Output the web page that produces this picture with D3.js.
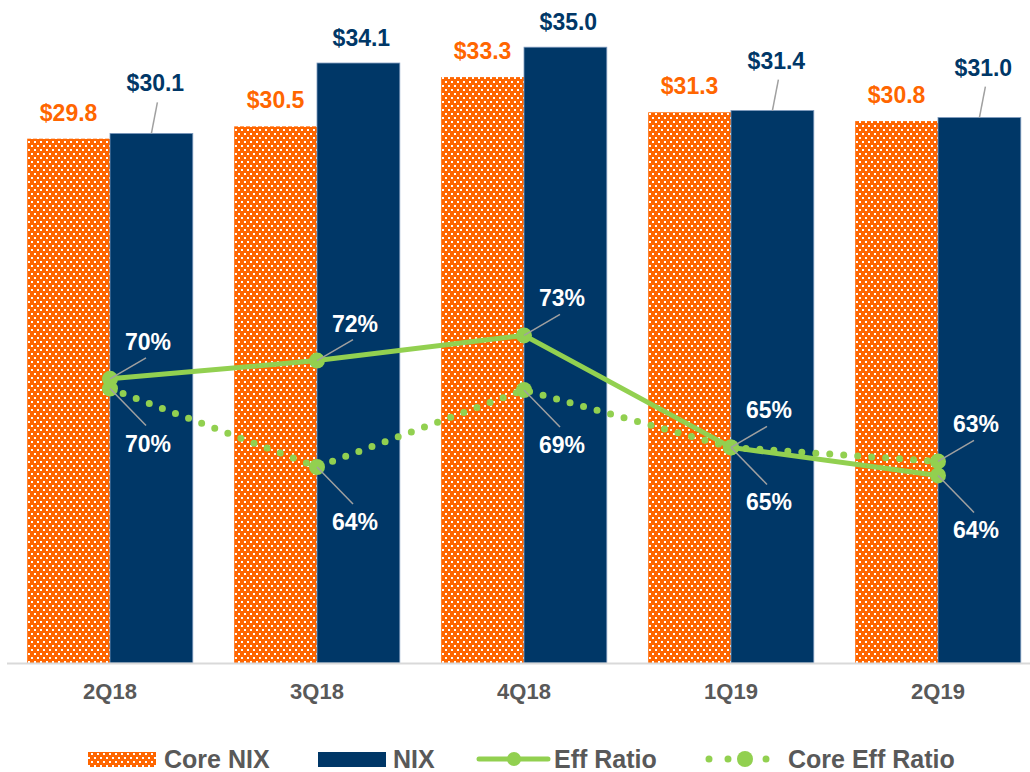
<!DOCTYPE html>
<head>
  <meta charset="utf-8">
  <title>NIX and efficiency ratio</title>
  <style>
    body { margin: 0; background: #fff; }
    text { font-family: Arial, "Liberation Sans", sans-serif; }
  </style>
</head>
<body>

<svg width="1030" height="772"></svg>

<script src="https://cdn.jsdelivr.net/npm/d3@7"></script>
<script>

  // data ($M and %)
  const quarters = ["2Q18", "3Q18", "4Q18", "1Q19", "2Q19"];
  const coreNix = [29.8, 30.5, 33.3, 31.3, 30.8];
  const nix = [30.1, 34.1, 35.0, 31.4, 31.0];
  // ratios as plotted, and the rounded values printed on the slide
  const effRatio = [70.3, 71.6, 73.4, 65.4, 63.4];
  const coreEffRatio = [69.6, 64.0, 69.5, 65.4, 64.4];
  const effLabels = [70, 72, 73, 65, 64];
  const coreEffLabels = [70, 64, 69, 65, 63];

  const ORANGE = "#FF6600", NAVY = "#003767", GREEN = "#92D050",
        GREY = "#595959", LEADER = "#a0a0a0";

  let svg = d3.select("svg");
  const plotTop = 12, plotBottom = 663;

  const x = d3.scaleBand()
    .domain(quarters)
    .range([6.5, 1041.5])
    .paddingInner(0.2)
    .paddingOuter(0.1);

  const xs = d3.scaleBand()
    .domain(["core", "nix"])
    .range([0, x.bandwidth()]);

  const y = d3.scaleLinear().domain([0, 37]).range([plotBottom, plotTop]);
  const y2 = d3.scaleLinear().domain([50, 96.5]).range([plotBottom, plotTop]);

  // dotted fill for Core NIX
  const defs = svg.append("defs");
  const pat = defs.append("pattern")
    .attr("id", "dots")
    .attr("patternUnits", "userSpaceOnUse")
    .attr("width", 6).attr("height", 8);
  pat.append("rect").attr("width", 6).attr("height", 8).attr("fill", ORANGE);
  pat.append("rect").attr("x", 1).attr("y", 1).attr("width", 2).attr("height", 2).attr("fill", "#fff");
  pat.append("rect").attr("x", 4).attr("y", 5).attr("width", 2).attr("height", 2).attr("fill", "#fff");

  const rows = quarters.map((q, i) => ({
    q, core: coreNix[i], nix: nix[i],
    eff: effRatio[i], ceff: coreEffRatio[i],
    effL: effLabels[i], ceffL: coreEffLabels[i]
  }));

  // bars
  const g = svg.append("g");
  g.selectAll("rect.core")
    .data(rows).enter().append("rect")
    .attr("class", "core")
    .attr("x", d => x(d.q) + xs("core"))
    .attr("y", d => y(d.core))
    .attr("width", xs.bandwidth())
    .attr("height", d => plotBottom - y(d.core))
    .attr("fill", "url(#dots)");

  g.selectAll("rect.nix")
    .data(rows).enter().append("rect")
    .attr("class", "nix")
    .attr("x", d => x(d.q) + xs("nix"))
    .attr("y", d => y(d.nix))
    .attr("width", xs.bandwidth())
    .attr("height", d => plotBottom - y(d.nix))
    .attr("fill", NAVY)
    .attr("stroke", "#7d99bd")
    .attr("stroke-width", 0.8);

  // x axis
  const axis = svg.append("g")
    .attr("transform", `translate(0,${plotBottom})`)
    .call(d3.axisBottom(x).tickSize(0).tickPadding(20));
  axis.select(".domain").attr("stroke", "#d9d9d9").attr("stroke-width", 2);
  axis.selectAll("text")
    .attr("fill", GREY)
    .attr("font-size", 22)
    .attr("font-weight", "bold")
    .attr("font-family", "Arial, 'Liberation Sans', sans-serif");

  // bar value labels
  const money = v => "$" + d3.format(".1f")(v);
  g.selectAll("text.core")
    .data(rows).enter().append("text")
    .attr("x", d => x(d.q) + xs("core") + xs.bandwidth() / 2)
    .attr("y", d => y(d.core) - 26)
    .attr("dy", "0.35em")
    .attr("text-anchor", "middle")
    .attr("font-size", 23).attr("font-weight", "bold")
    .attr("fill", ORANGE)
    .text(d => money(d.core));

  // navy labels get lifted with a leader when they would clash with the orange one
  const lifted = d => Math.abs(d.nix - d.core) < 1;
  g.selectAll("line.nix")
    .data(rows.filter(lifted)).enter().append("line")
    .attr("x1", d => x(d.q) + xs("nix") + xs.bandwidth() / 2)
    .attr("y1", d => y(d.nix))
    .attr("x2", d => x(d.q) + xs("nix") + xs.bandwidth() / 2 + 6)
    .attr("y2", d => y(d.nix) - 31)
    .attr("stroke", LEADER).attr("stroke-width", 1.5);

  g.selectAll("text.nix")
    .data(rows).enter().append("text")
    .attr("x", d => x(d.q) + xs("nix") + xs.bandwidth() / 2 + (lifted(d) ? 4 : 3))
    .attr("y", d => y(d.nix) - (lifted(d) ? 50 : 25))
    .attr("dy", "0.35em")
    .attr("text-anchor", "middle")
    .attr("font-size", 23).attr("font-weight", "bold")
    .attr("fill", NAVY)
    .text(d => money(d.nix));

  // ratio lines, points sit on the band centre
  const cx = d => x(d.q) + x.bandwidth() / 2;

  svg.append("path")
    .datum(rows)
    .attr("fill", "none")
    .attr("stroke", GREEN)
    .attr("stroke-width", 7)
    .attr("stroke-linecap", "round")
    .attr("stroke-dasharray", "0 14")
    .attr("d", d3.line().x(cx).y(d => y2(d.ceff)));

  svg.append("path")
    .datum(rows)
    .attr("fill", "none")
    .attr("stroke", GREEN)
    .attr("stroke-width", 5)
    .attr("d", d3.line().x(cx).y(d => y2(d.eff)));

  ["ceff", "eff"].forEach(k => {
    svg.append("g").selectAll("circle")
      .data(rows).enter().append("circle")
      .attr("cx", cx)
      .attr("cy", d => y2(d[k]))
      .attr("r", 8)
      .attr("fill", GREEN);
  });

  // percent labels: the higher point gets its label above, the other one below
  const pct = [];
  rows.forEach(d => {
    const effUp = y2(d.eff) <= y2(d.ceff);
    pct.push({ x: cx(d), y: y2(d.eff), up: effUp, v: d.effL });
    pct.push({ x: cx(d), y: y2(d.ceff), up: !effUp, v: d.ceffL });
  });

  const lab = svg.append("g");
  lab.selectAll("line")
    .data(pct).enter().append("line")
    .attr("x1", d => d.x)
    .attr("y1", d => d.y)
    .attr("x2", d => d.x + 36)
    .attr("y2", d => d.up ? d.y - 21 : d.y + 37)
    .attr("stroke", LEADER).attr("stroke-width", 1.5);

  lab.selectAll("text")
    .data(pct).enter().append("text")
    .attr("x", d => d.x + 38)
    .attr("y", d => d.up ? d.y - 37 : d.y + 55)
    .attr("dy", "0.35em")
    .attr("text-anchor", "middle")
    .attr("font-size", 23).attr("font-weight", "bold")
    .attr("fill", "#fff")
    .text(d => d.v + "%");

  // legend
  const ly = 759;
  const legend = svg.append("g");
  const names = ["Core NIX", "NIX", "Eff Ratio", "Core Eff Ratio"];
  const textX = [164, 393, 554, 788];

  legend.append("rect").attr("x", 88).attr("y", ly - 7).attr("width", 68).attr("height", 15).attr("fill", "url(#dots)");
  legend.append("rect").attr("x", 318).attr("y", ly - 7).attr("width", 68).attr("height", 15).attr("fill", NAVY);
  legend.append("line").attr("x1", 479).attr("x2", 548).attr("y1", ly).attr("y2", ly)
    .attr("stroke", GREEN).attr("stroke-width", 5).attr("stroke-linecap", "round");
  legend.append("circle").attr("cx", 514).attr("cy", ly).attr("r", 7).attr("fill", GREEN);
  legend.append("line").attr("x1", 709).attr("x2", 772).attr("y1", ly).attr("y2", ly)
    .attr("stroke", GREEN).attr("stroke-width", 7).attr("stroke-linecap", "round")
    .attr("stroke-dasharray", "0 19");
  legend.append("circle").attr("cx", 745).attr("cy", ly).attr("r", 8).attr("fill", GREEN);

  legend.selectAll("text")
    .data(names).enter().append("text")
    .attr("x", (d, i) => textX[i])
    .attr("y", ly)
    .attr("dy", "0.36em")
    .attr("font-size", 25)
    .attr("font-weight", "bold")
    .attr("fill", GREY)
    .text(d => d);

</script>
</body>
